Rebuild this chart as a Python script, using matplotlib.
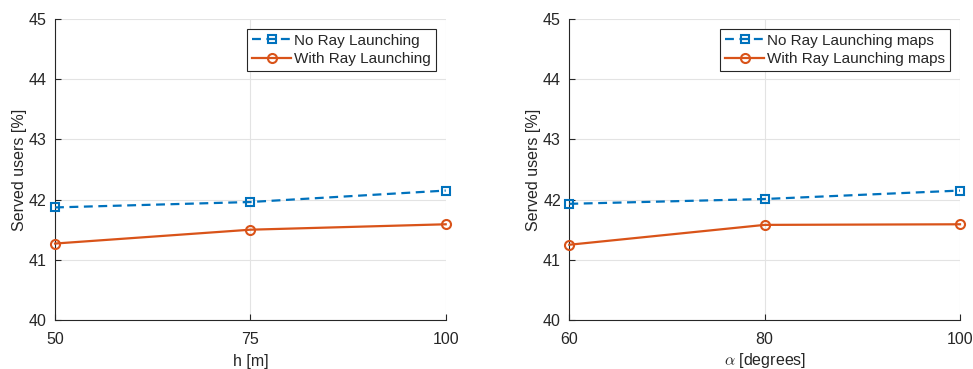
import matplotlib
matplotlib.use("Agg")
import matplotlib.pyplot as plt

plt.rcParams['font.family'] = ['Liberation Sans', 'DejaVu Sans']
plt.rcParams['mathtext.fontset'] = 'cm'

h_vals = [50, 75, 100]
h_no_rl = [41.87, 41.96, 42.15]
h_with_rl = [41.27, 41.50, 41.59]

alpha_vals = [60, 80, 100]
alpha_no_rl = [41.93, 42.01, 42.15]
alpha_with_rl = [41.25, 41.58, 41.59]

y_ticks = [40, 41, 42, 43, 44, 45]

BLUE = '#0072BD'
RED = '#D95319'
TXT = '#262626'

W, H = 973, 369
fig = plt.figure(figsize=(W / 100, H / 100), dpi=100)

panels = [
    (55, h_vals, h_no_rl, h_with_rl, 'h [m]', 5,
     ['No Ray Launching', 'With Ray Launching']),
    (569.3, alpha_vals, alpha_no_rl, alpha_with_rl, r'$\alpha$ [degrees]', 2.5,
     ['No Ray Launching maps', 'With Ray Launching maps']),
]

for left, xs, y1, y2, xlabel, xlpad, labels in panels:
    ax = fig.add_axes([left / W, 49 / H, 390.7 / W, 301 / H])
    ax.plot(xs, y1, '--s', color=BLUE, lw=1.6, ms=5.5, mfc='none', mew=1.5,
            label=labels[0], dashes=(4, 2.5), clip_on=False, zorder=3)
    ax.plot(xs, y2, '-o', color=RED, lw=1.6, ms=6.5, mfc='none', mew=1.5,
            label=labels[1], clip_on=False, zorder=3)
    ax.set_xlim(xs[0], xs[-1])
    ax.set_ylim(40, 45)
    ax.set_xticks(xs)
    ax.set_yticks(y_ticks)
    ax.grid(True, color='#e3e3e3', lw=0.8)
    ax.set_axisbelow(True)
    for s in ['top', 'right']:
        ax.spines[s].set_visible(False)
    for s in ['left', 'bottom']:
        ax.spines[s].set_color(TXT)
        ax.spines[s].set_linewidth(0.8)
    ax.tick_params(direction='in', length=4, width=0.8, colors=TXT,
                   labelsize=11.5)
    ax.tick_params(axis='y', pad=6)
    ax.tick_params(axis='x', pad=9)
    ax.set_xlabel(xlabel, fontsize=11.5, color=TXT, labelpad=xlpad)
    ax.set_ylabel('Served users [%]', fontsize=11.5, color=TXT, labelpad=1.5)
    leg = ax.legend(loc='upper right', fontsize=11, frameon=True, fancybox=False,
                    edgecolor=TXT, framealpha=1, handlelength=2.6,
                    handletextpad=0.2, borderpad=0.3, labelspacing=0.3,
                    borderaxespad=0.65)
    leg.get_frame().set_linewidth(0.8)
    for t in leg.get_texts():
        t.set_color(TXT)

fig.savefig('out.png', dpi=100)
